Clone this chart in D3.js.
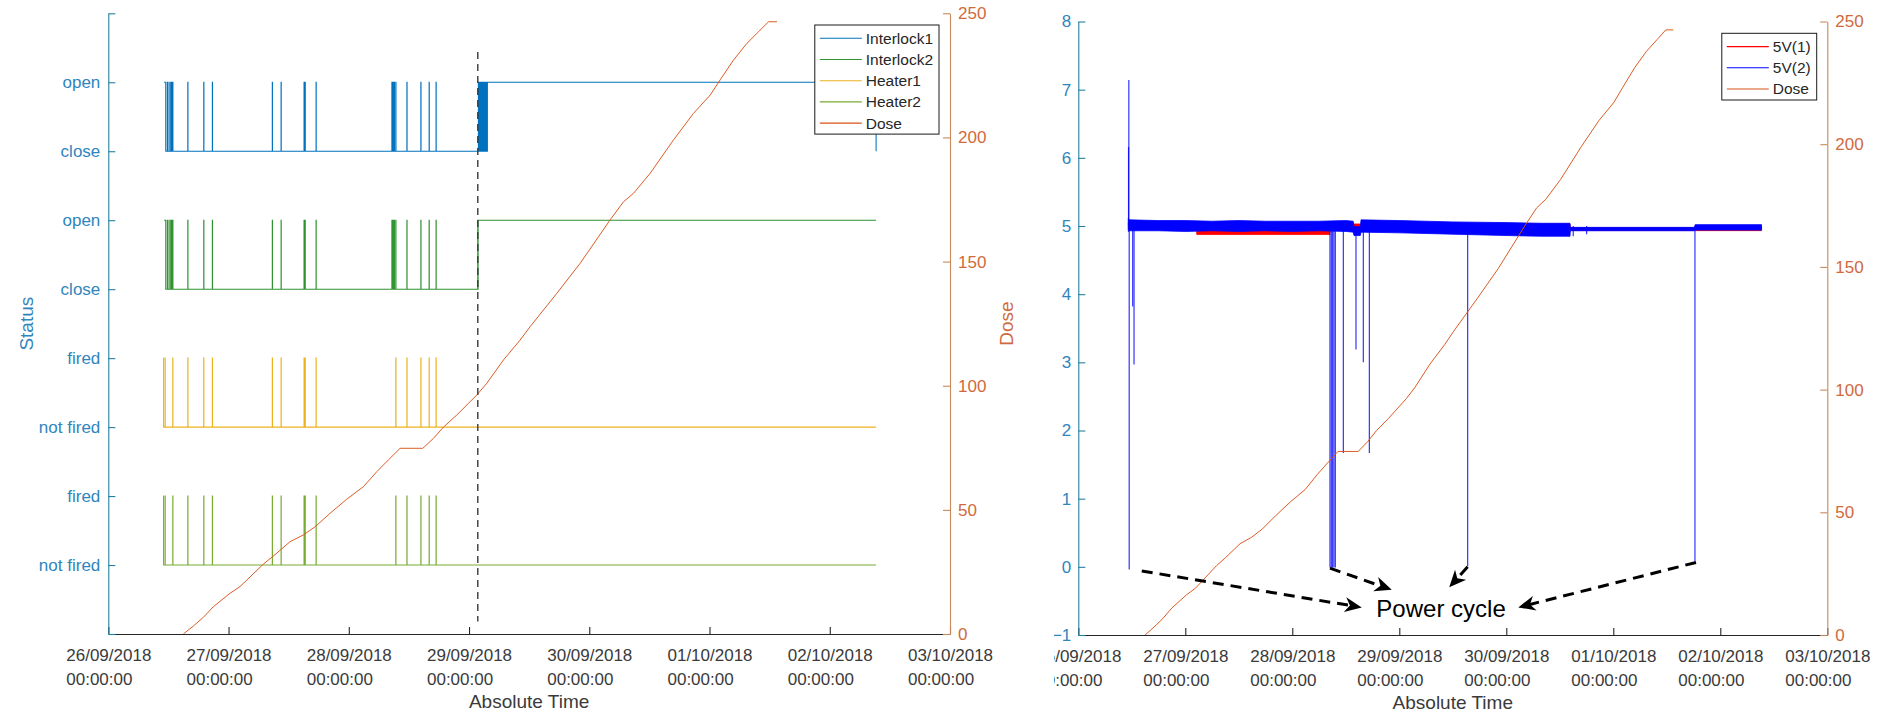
<!DOCTYPE html>
<html>
<head>
<meta charset="utf-8">
<script src="https://cdn.jsdelivr.net/npm/d3@7"></script>
<style>
  html, body { margin: 0; padding: 0; background: #fff; }
  svg { display: block; font-family: "Liberation Sans", Arial, Helvetica, sans-serif; font-size: 17px; }
</style>
</head>
<body>
<svg id="fig" width="1880" height="712"></svg>
<script>
const parseTime = d3.timeParse("%Y-%m-%d %H:%M");

// ---- axis ticks ----
const dateTicks = ["2018-09-26 00:00", "2018-09-27 00:00", "2018-09-28 00:00", "2018-09-29 00:00",
                   "2018-09-30 00:00", "2018-10-01 00:00", "2018-10-02 00:00", "2018-10-03 00:00"];
const statusTickValues = [0, 1, 2, 3, 4, 5, 6, 7, 8, 9];
const statusTickLabels = ["", "not fired", "fired", "not fired", "fired", "close", "open", "close", "open", ""];
const statusRange = [0, 9];
const voltTickValues = [-1, 0, 1, 2, 3, 4, 5, 6, 7, 8];
const voltRange = [-1, 8];
const doseTickValues = [0, 50, 100, 150, 200, 250];
const doseRange = [0, 250];

// ---- accumulated dose ----
const doseTimes = ["2018-09-26 14:59", "2018-09-26 16:58", "2018-09-26 18:58", "2018-09-26 20:59",
  "2018-09-27 00:17", "2018-09-27 02:18", "2018-09-27 06:58", "2018-09-27 08:57", "2018-09-27 12:17",
  "2018-09-27 14:56", "2018-09-27 17:17", "2018-09-27 20:15", "2018-09-27 23:36", "2018-09-28 02:54",
  "2018-09-28 05:36", "2018-09-28 07:54", "2018-09-28 10:15", "2018-09-28 14:47", "2018-09-28 16:54",
  "2018-09-28 18:53", "2018-09-28 21:33", "2018-09-28 23:53", "2018-09-29 01:34", "2018-09-29 03:33",
  "2018-09-29 06:53", "2018-09-29 10:12", "2018-09-29 12:12", "2018-09-29 17:31", "2018-09-29 22:11",
  "2018-09-30 04:10", "2018-09-30 06:50", "2018-09-30 08:50", "2018-09-30 12:10", "2018-09-30 16:49",
  "2018-09-30 20:48", "2018-10-01 00:09", "2018-10-01 02:08", "2018-10-01 04:48", "2018-10-01 07:28",
  "2018-10-01 09:48", "2018-10-01 11:47", "2018-10-01 13:28"];
const doseValues = [0, 3.2, 6.7, 11.0, 16.4, 19.1, 28.2, 31.4, 37.2, 39.9, 43.2, 48.6, 54.3, 59.3,
  65.4, 70.1, 74.8, 74.8, 78.8, 83.3, 88.2, 92.9, 96.3, 101.0, 110.4, 118.4, 123.8, 137.2, 149.3,
  166.8, 174.1, 177.5, 185.6, 199.0, 209.7, 217.1, 223.2, 231.2, 237.9, 242.6, 246.6, 246.6];

// ---- interlock / heater status events ----
const recordEnd = "2018-10-02 09:15";
const interlockStart = "2018-09-26 11:08";
const interlockFirstClose = "2018-09-26 11:28";
const interlockPulses = ["2018-09-26 11:47", "2018-09-26 12:07", "2018-09-26 12:27", "2018-09-26 12:40",
  "2018-09-26 12:52", "2018-09-26 15:52", "2018-09-26 19:03", "2018-09-26 20:46", "2018-09-27 08:44",
  "2018-09-27 10:29", "2018-09-27 15:04", "2018-09-27 15:17", "2018-09-27 17:28", "2018-09-28 08:36",
  "2018-09-28 08:50", "2018-09-28 09:05", "2018-09-28 09:23", "2018-09-28 11:36",
  "2018-09-28 14:23", "2018-09-28 16:02", "2018-09-28 17:25"];
const interlock1Burst = ["2018-09-29 01:52", "2018-09-29 01:59", "2018-09-29 02:06", "2018-09-29 02:13",
  "2018-09-29 02:20", "2018-09-29 02:27", "2018-09-29 02:34", "2018-09-29 02:41", "2018-09-29 02:48",
  "2018-09-29 02:55", "2018-09-29 03:02", "2018-09-29 03:09", "2018-09-29 03:16", "2018-09-29 03:23",
  "2018-09-29 03:30"];
const interlock1Reopen = "2018-09-29 03:40";
const interlock2Burst = ["2018-09-29 01:44"];
const interlock2Reopen = "2018-09-29 01:49";
const heaterStart = "2018-09-26 10:58";
const heaterFirstOff = "2018-09-26 11:02";
const heaterPulses = ["2018-09-26 11:20", "2018-09-26 12:52", "2018-09-26 15:52", "2018-09-26 19:03",
  "2018-09-26 20:46", "2018-09-27 08:44", "2018-09-27 10:29", "2018-09-27 15:04", "2018-09-27 15:17",
  "2018-09-27 17:28", "2018-09-28 09:23", "2018-09-28 11:36", "2018-09-28 14:23", "2018-09-28 16:02",
  "2018-09-28 17:25"];
const pulseMinutes = 2;
const restartMarker = "2018-09-29 01:45";
const restartMarkerSpan = [0.18, 8.44];

// ---- supply voltages: noise envelope of each rail ----
const v2BandTimes = ["2018-09-26 11:13", "2018-09-26 11:30", "2018-09-26 18:00", "2018-09-27 00:00",
  "2018-09-27 06:00", "2018-09-27 12:00", "2018-09-27 18:00", "2018-09-28 00:00", "2018-09-28 06:00",
  "2018-09-28 12:00", "2018-09-28 13:40", "2018-09-28 13:50", "2018-09-28 15:15", "2018-09-28 15:25",
  "2018-09-29 00:00", "2018-09-29 12:00", "2018-09-30 00:00", "2018-09-30 08:00", "2018-09-30 14:17",
  "2018-09-30 14:22", "2018-10-01 18:12", "2018-10-01 18:22", "2018-10-02 09:15"];
const v2BandLow = [4.92, 4.93, 4.93, 4.92, 4.93, 4.92, 4.93, 4.92, 4.93, 4.92, 4.91, 4.86, 4.86, 4.91,
  4.90, 4.88, 4.86, 4.85, 4.85, 4.93, 4.93, 4.94, 4.94];
const v2BandHigh = [5.11, 5.09, 5.08, 5.08, 5.07, 5.08, 5.07, 5.07, 5.07, 5.08, 5.07, 4.99, 4.99, 5.09,
  5.08, 5.06, 5.05, 5.04, 5.04, 4.98, 4.98, 5.02, 5.02];
const v1BandTimes = ["2018-09-26 11:13", "2018-09-27 02:30", "2018-09-27 02:35", "2018-09-28 08:25",
  "2018-09-28 08:30", "2018-09-30 14:17", "2018-09-30 14:22", "2018-10-01 18:12", "2018-10-01 18:22",
  "2018-10-02 09:15"];
const v1BandLow = [4.95, 4.95, 4.875, 4.875, 4.94, 4.94, 4.935, 4.935, 4.932, 4.932];
const v1BandHigh = [5.05, 5.05, 4.94, 4.94, 5.03, 5.03, 4.975, 4.975, 4.99, 4.99];
const supplyNominal = 5.0;
const v2DropTimes = ["2018-09-26 11:16", "2018-09-26 11:20", "2018-09-26 11:25", "2018-09-26 12:12",
  "2018-09-26 12:30", "2018-09-28 08:27", "2018-09-28 08:45", "2018-09-28 09:03", "2018-09-28 09:21",
  "2018-09-28 09:39", "2018-09-28 11:27", "2018-09-28 14:17",
  "2018-09-28 15:56", "2018-09-28 17:17", "2018-09-29 15:20", "2018-09-30 15:01", "2018-09-30 18:01",
  "2018-10-01 18:19"];
const v2DropValues = [6.16, 7.14, -0.04, 3.82, 2.97, -0.01, -0.01, -0.01, -0.01, -0.01,
  1.67, 3.19, 3.00, 1.67, 0.01, 4.85, 4.88, 0.08];

// ---- power cycle annotation (time, volts) ----
const powerCycleText = "Power cycle";
const powerCycleTextAt = ["2018-09-29 09:22", -0.62];
const powerCycleArrowFrom = [["2018-09-26 14:14", -0.06], ["2018-09-28 08:27", -0.02],
                             ["2018-09-29 15:20", 0.0], ["2018-10-01 18:33", 0.064]];
const powerCycleArrowTo = [["2018-09-28 15:35", -0.595], ["2018-09-28 22:18", -0.337],
                           ["2018-09-29 11:12", -0.30], ["2018-09-30 02:41", -0.595]];

// ---- styling ----
const C = {
  il1: "#0072BD", il2: "#2f9330", h1: "#EDB120", h2: "#77AC30", dose: "#D95319",
  v1: "#ff0000", v2: "#0000ff",
  leftAxis: "#24809f", leftText: "#2f85bd", rightAxis: "#c9895a", rightText: "#d06a3c",
  dark: "#262626", darkText: "#3a3a3a"
};
const fmtDate = d3.timeFormat("%d/%m/%Y");
const fmtClock = d3.timeFormat("%H:%M:%S");

const svg = d3.select("#fig");

function timeAxis(g, x, box, title) {
  const ax = d3.axisBottom(x).tickValues(dateTicks.map(parseTime))
    .tickSizeInner(-7).tickSizeOuter(0).tickPadding(0).tickFormat(() => "");
  const ga = g.append("g").attr("transform", `translate(0,${box.y1})`).call(ax)
    .attr("font-size", null).attr("font-family", null);
  ga.select(".domain").attr("stroke", C.dark).attr("stroke-width", 1.1);
  ga.selectAll(".tick line").attr("stroke", C.dark).attr("stroke-width", 1.1);
  ga.selectAll(".tick text").each(function (d) {
    const t = d3.select(this).attr("y", null).attr("dy", null)
      .attr("text-anchor", "start").attr("fill", C.darkText);
    const a = t.append("tspan").attr("y", 26.7).text(fmtDate(d));
    const b = t.append("tspan").attr("y", 50.7).text(fmtClock(d));
    const w = a.node().getComputedTextLength();
    a.attr("x", -w / 2); b.attr("x", -w / 2);
  });
  g.append("text").attr("x", (box.x0 + box.x1) / 2).attr("y", box.y1 + 74)
    .attr("text-anchor", "middle").attr("font-size", 19).attr("fill", C.darkText).text(title);
}

function sideAxis(g, scale, box, side, values, fmt, pad, lineColor, textColor) {
  const ax = (side === "left" ? d3.axisLeft(scale) : d3.axisRight(scale))
    .tickValues(values).tickSizeInner(-7).tickSizeOuter(0).tickPadding(pad).tickFormat(fmt);
  const ga = g.append("g").attr("transform", `translate(${side === "left" ? box.x0 : box.x1},0)`)
    .call(ax).attr("font-size", null).attr("font-family", null);
  ga.select(".domain").attr("stroke", lineColor).attr("stroke-width", 1.1);
  ga.selectAll(".tick line").attr("stroke", lineColor).attr("stroke-width", 1.1);
  ga.selectAll(".tick text").attr("fill", textColor);
}

function legend(g, items, right, top) {
  const rowH = 21.2, lineLen = 42, first = 13.3;
  const lg = g.append("g");
  const box = lg.append("rect").attr("fill", "#fff").attr("stroke", "#1a1a1a").attr("stroke-width", 1);
  let maxW = 0;
  const texts = items.map(it => {
    const t = lg.append("text").attr("font-size", 15.5).attr("fill", C.dark)
      .attr("dy", "0.35em").text(it.name);
    maxW = Math.max(maxW, t.node().getComputedTextLength());
    return t;
  });
  const w = 5 + lineLen + 4 + maxW + 6;
  const h = first + (items.length - 1) * rowH + 11;
  const left = right - w;
  box.attr("x", left).attr("y", top).attr("width", w).attr("height", h);
  items.forEach((it, i) => {
    const cy = top + first + i * rowH;
    lg.append("line").attr("x1", left + 5).attr("x2", left + 5 + lineLen)
      .attr("y1", cy).attr("y2", cy).attr("stroke", it.color).attr("stroke-width", 1.1);
    texts[i].attr("x", left + 5 + lineLen + 4).attr("y", cy);
  });
}

// ================= left panel: status + dose =================
const L = { x0: 108.3, x1: 950, y0: 13.3, y1: 634 };
const gL = svg.append("g");
const xL = d3.scaleTime().domain([parseTime(dateTicks[0]), parseTime(dateTicks[dateTicks.length - 1])]).range([L.x0, L.x1]);
const yS = d3.scaleLinear().domain(statusRange).range([L.y1, L.y0]);
const yDL = d3.scaleLinear().domain(doseRange).range([L.y1, L.y0]);

const pulseMs = pulseMinutes * 60 * 1000;
function addPulses(pts, list, low, high) {
  list.forEach(s => {
    const t = parseTime(s), t2 = new Date(+t + pulseMs);
    pts.push([t, low], [t, high], [t2, high], [t2, low]);
  });
}
function interlockTrace(low, high, burst, reopen, endsClosed) {
  const pts = [[parseTime(interlockStart), high], [parseTime(interlockFirstClose), high],
               [parseTime(interlockFirstClose), low]];
  addPulses(pts, interlockPulses, low, high);
  addPulses(pts, burst, low, high);
  pts.push([parseTime(reopen), low], [parseTime(reopen), high], [parseTime(recordEnd), high]);
  if (endsClosed) pts.push([parseTime(recordEnd), low]);
  return pts;
}
function heaterTrace(low, high) {
  const pts = [[parseTime(heaterStart), high], [parseTime(heaterFirstOff), high], [parseTime(heaterFirstOff), low]];
  addPulses(pts, heaterPulses, low, high);
  pts.push([parseTime(recordEnd), low]);
  return pts;
}
const statusLine = d3.line().x(d => xL(d[0])).y(d => yS(d[1]));
const statusSeries = [
  { name: "Interlock1", color: C.il1, pts: interlockTrace(7, 8, interlock1Burst, interlock1Reopen, true) },
  { name: "Interlock2", color: C.il2, pts: interlockTrace(5, 6, interlock2Burst, interlock2Reopen, false) },
  { name: "Heater1", color: C.h1, pts: heaterTrace(3, 4) },
  { name: "Heater2", color: C.h2, pts: heaterTrace(1, 2) }
];
statusSeries.forEach(s => {
  gL.append("path").attr("d", statusLine(s.pts)).attr("fill", "none")
    .attr("stroke", s.color).attr("stroke-width", 1.05);
});

const doseData = doseTimes.map((t, i) => [parseTime(t), doseValues[i]]);
gL.append("path").attr("d", d3.line().x(d => xL(d[0])).y(d => yDL(d[1]))(doseData))
  .attr("fill", "none").attr("stroke", C.dose).attr("stroke-width", 0.95);

gL.append("line").attr("x1", xL(parseTime(restartMarker))).attr("x2", xL(parseTime(restartMarker)))
  .attr("y1", yS(restartMarkerSpan[1])).attr("y2", yS(restartMarkerSpan[0]))
  .attr("stroke", "#3a3a3a").attr("stroke-width", 1.4).attr("stroke-dasharray", "7,5");

timeAxis(gL, xL, L, "Absolute Time");
sideAxis(gL, yS, L, "left", statusTickValues, i => statusTickLabels[i], 8, C.leftAxis, C.leftText);
sideAxis(gL, yDL, L, "right", doseTickValues, d3.format("d"), 8, C.rightAxis, C.rightText);
gL.append("text").attr("transform", `translate(33,${(L.y0 + L.y1) / 2}) rotate(-90)`)
  .attr("text-anchor", "middle").attr("font-size", 19).attr("fill", C.leftText).text("Status");
gL.append("text").attr("transform", `translate(1012.5,${(L.y0 + L.y1) / 2}) rotate(-90)`)
  .attr("text-anchor", "middle").attr("font-size", 19).attr("fill", C.rightText).text("Dose");
legend(gL, [...statusSeries, { name: "Dose", color: C.dose }], L.x1 - 11, L.y0 + 11.7);

// ================= right panel: supply voltages + dose =================
const R = { x0: 1078.3, x1: 1827.3, y0: 21.5, y1: 635 };
svg.append("defs").append("clipPath").attr("id", "rightClip")
  .append("rect").attr("x", 1054).attr("y", 0).attr("width", 1880 - 1054).attr("height", 712);
const gR = svg.append("g").attr("clip-path", "url(#rightClip)");
const xR = d3.scaleTime().domain(xL.domain()).range([R.x0, R.x1]);
const yV = d3.scaleLinear().domain(voltRange).range([R.y1, R.y0]);
const yDR = d3.scaleLinear().domain(doseRange).range([R.y1, R.y0]);

function band(times, lo, hi, color) {
  const data = times.map((t, i) => [parseTime(t), lo[i], hi[i]]);
  gR.append("path").attr("d", d3.area().x(d => xR(d[0])).y0(d => yV(d[1])).y1(d => yV(d[2]))(data))
    .attr("fill", color).attr("stroke", color).attr("stroke-width", 0.8);
}
band(v1BandTimes, v1BandLow, v1BandHigh, C.v1);
band(v2BandTimes, v2BandLow, v2BandHigh, C.v2);
v2DropTimes.forEach((t, i) => {
  const x = xR(parseTime(t));
  gR.append("line").attr("x1", x).attr("x2", x)
    .attr("y1", yV(supplyNominal)).attr("y2", yV(v2DropValues[i]))
    .attr("stroke", C.v2).attr("stroke-width", 1.2).attr("stroke-opacity", 0.8);
});
gR.append("path").attr("d", d3.line().x(d => xR(d[0])).y(d => yDR(d[1]))(doseData))
  .attr("fill", "none").attr("stroke", C.dose).attr("stroke-width", 0.95);

timeAxis(gR, xR, R, "Absolute Time");
sideAxis(gR, yV, R, "left", voltTickValues, d3.format("d"), 7, C.leftAxis, C.leftText);
sideAxis(gR, yDR, R, "right", doseTickValues, d3.format("d"), 8, C.rightAxis, C.rightText);
legend(gR, [{ name: "5V(1)", color: C.v1 }, { name: "5V(2)", color: C.v2 }, { name: "Dose", color: C.dose }],
       R.x1 - 10.6, R.y0 + 11.8);

// power cycle call-out
const ann = gR.append("g");
function arrow(p0, p1) {
  const dx = p1[0] - p0[0], dy = p1[1] - p0[1], len = Math.hypot(dx, dy);
  const ux = dx / len, uy = dy / len, head = 17, half = 7.5, notch = 12;
  const bx = p1[0] - ux * head, by = p1[1] - uy * head;
  const nx = p1[0] - ux * notch, ny = p1[1] - uy * notch;
  ann.append("line").attr("x1", p0[0]).attr("y1", p0[1]).attr("x2", nx).attr("y2", ny)
    .attr("stroke", "#000").attr("stroke-width", 3).attr("stroke-dasharray", "11,7");
  ann.append("path")
    .attr("d", `M${p1[0]},${p1[1]}L${bx - uy * half},${by + ux * half}L${nx},${ny}L${bx + uy * half},${by - ux * half}Z`)
    .attr("fill", "#000");
}
powerCycleArrowFrom.forEach((f, i) => {
  const to = powerCycleArrowTo[i];
  arrow([xR(parseTime(f[0])), yV(f[1])], [xR(parseTime(to[0])), yV(to[1])]);
});
ann.append("text").attr("x", xR(parseTime(powerCycleTextAt[0]))).attr("y", yV(powerCycleTextAt[1]))
  .attr("dy", "0.35em").attr("text-anchor", "middle").attr("font-size", 24).attr("fill", "#000")
  .text(powerCycleText);
</script>
</body>
</html>
